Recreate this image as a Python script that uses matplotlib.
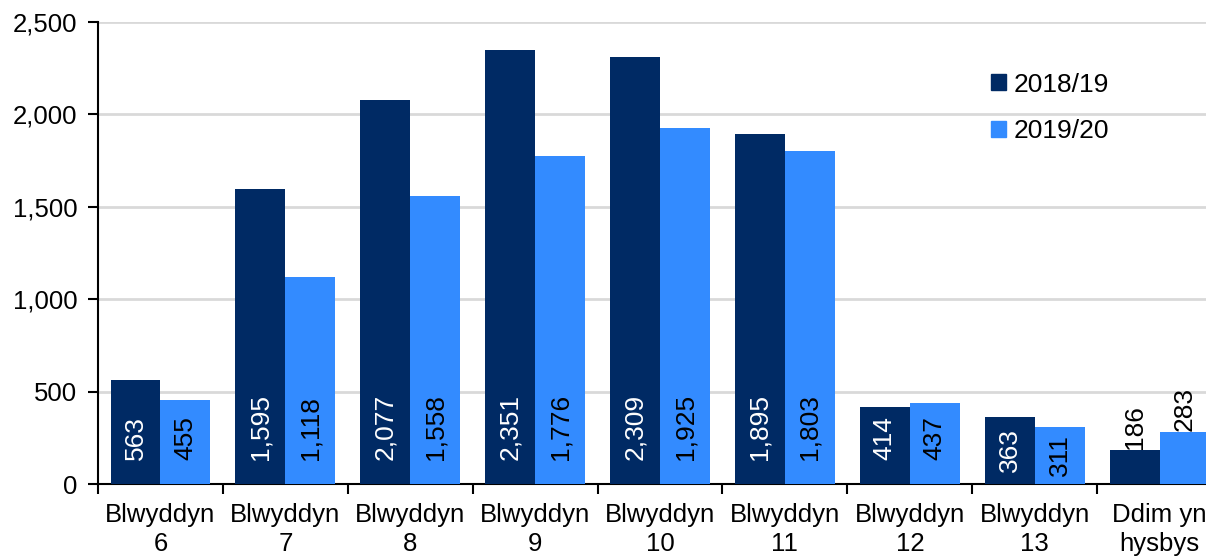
import matplotlib
matplotlib.use("Agg")
import matplotlib.pyplot as plt
import matplotlib.ticker as mticker
from matplotlib.patches import Rectangle
import numpy as np

plt.rcParams['font.family'] = ['Liberation Sans', 'DejaVu Sans']

# data
categories = ['Blwyddyn\n6', 'Blwyddyn\n7', 'Blwyddyn\n8', 'Blwyddyn\n9', 'Blwyddyn\n10',
              'Blwyddyn\n11', 'Blwyddyn\n12', 'Blwyddyn\n13', 'Ddim yn\nhysbys']
series_names = ['2018/19', '2019/20']
vals_1819 = [563, 1595, 2077, 2351, 2309, 1895, 414, 363, 186]
vals_1920 = [455, 1118, 1558, 1776, 1925, 1803, 437, 311, 283]

dark = '#002A64'
light = '#338BFF'

fig = plt.figure(figsize=(12.06, 5.58), dpi=100)
# axes runs a bit past the right edge, like the original
ax = fig.add_axes([0.0813, 0.1326, 0.932, 0.828])

x = np.arange(len(categories))
w = 0.4
b1 = ax.bar(x - w / 2, vals_1819, w, color=dark, zorder=3)
b2 = ax.bar(x + w / 2, vals_1920, w, color=light, zorder=3)


def add_labels(bars, values, txtcol):
    for rect, v in zip(bars, values):
        cx = rect.get_x() + rect.get_width() / 2
        s = f'{v:,}'
        if v < 300:
            ax.text(cx, v + 5, s, rotation=90, ha='center', va='bottom',
                    fontsize=19, color='black', zorder=4)
        elif v < 400:
            ax.text(cx, v / 2, s, rotation=90, ha='center', va='center',
                    fontsize=19, color=txtcol, zorder=4)
        else:
            ax.text(cx, 130, s, rotation=90, ha='center', va='bottom',
                    fontsize=19, color=txtcol, zorder=4)


add_labels(b1, vals_1819, 'white')
add_labels(b2, vals_1920, 'black')

ax.set_xlim(-0.5, len(categories) - 0.5)
ax.set_ylim(0, 2500)
ax.yaxis.set_major_locator(mticker.MultipleLocator(500))
ax.yaxis.set_major_formatter(mticker.FuncFormatter(lambda v, p: f'{int(v):,}'))
ax.grid(axis='y', color='#D9D9D9', linewidth=2, zorder=0)

ax.set_xticks(x)
ax.set_xticklabels(categories, fontsize=18.5, linespacing=1.25)
ax.set_xticks(np.arange(-0.5, len(categories), 1), minor=True)
ax.tick_params(axis='x', which='major', length=0, pad=14)
ax.tick_params(axis='x', which='minor', length=7, width=1.5, direction='out')
ax.tick_params(axis='y', labelsize=18.5, length=7, width=1.5, direction='out', pad=8)

for side in ['top', 'right']:
    ax.spines[side].set_visible(False)
for side in ['left', 'bottom']:
    ax.spines[side].set_linewidth(1.5)
    ax.spines[side].set_color('black')

handles = [Rectangle((0, 0), 1, 1, color=dark), Rectangle((0, 0), 1, 1, color=light)]
ax.legend(handles, series_names, loc='upper left', bbox_to_anchor=(0.822, 0.87),
          bbox_transform=fig.transFigure, frameon=False, fontsize=19,
          handlelength=0.55, handleheight=0.55, handletextpad=0.3, labelspacing=0.85,
          borderaxespad=0, borderpad=0)

fig.savefig('out.png', dpi=100)
